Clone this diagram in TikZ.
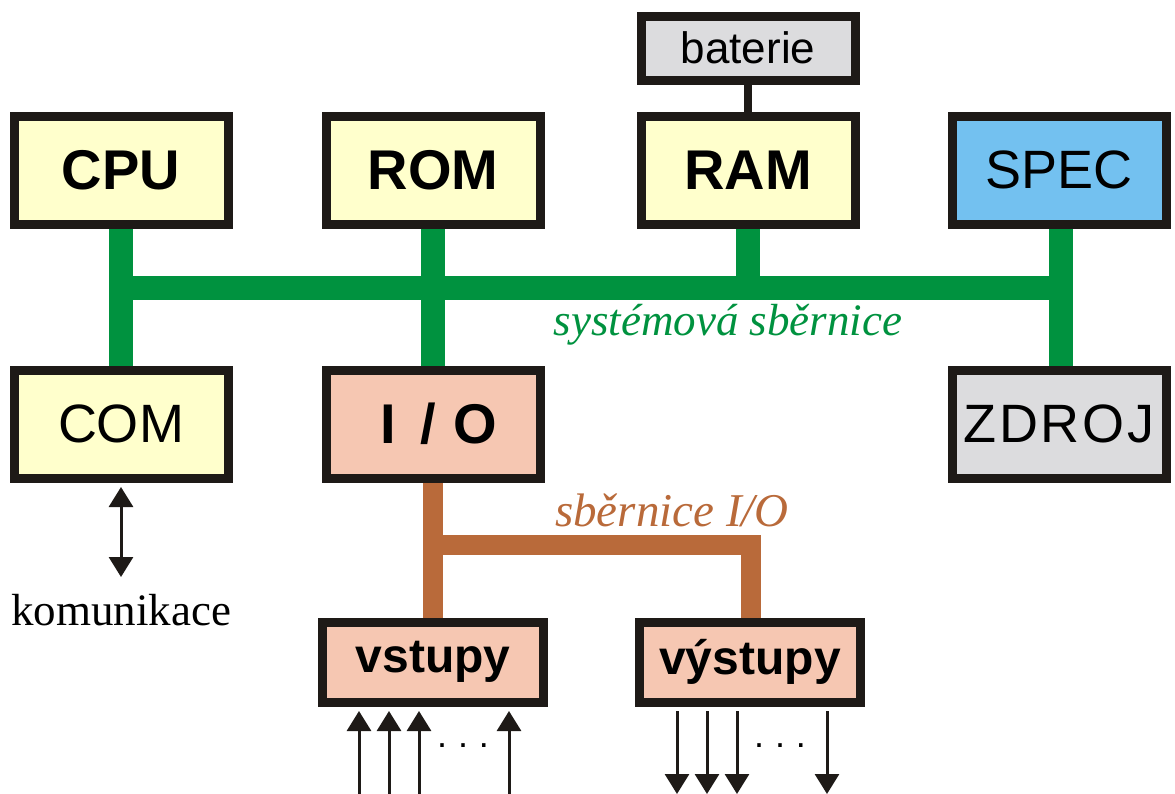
\documentclass[tikz,border=0pt]{standalone}
\usepackage{fontspec}
\setmainfont{Liberation Sans}
\newfontfamily\labelfont{Liberation Serif}
\usetikzlibrary{arrows.meta,backgrounds}

\definecolor{outline}{RGB}{30,26,23}
\definecolor{unityellow}{RGB}{255,255,204}
\definecolor{unitsalmon}{RGB}{246,199,178}
\definecolor{unitblue}{RGB}{115,193,240}
\definecolor{unitgray}{RGB}{220,220,222}
\definecolor{sysgreen}{RGB}{0,146,63}
\definecolor{iobrown}{RGB}{185,106,58}

\begin{document}
\begin{tikzpicture}[x=0.5pt,y=-0.5pt,
  unit/.style={draw=outline, line width=4.5pt, minimum width=107pt, minimum height=54pt, inner sep=0pt},
  portbox/.style={unit, minimum width=110.5pt, minimum height=40pt, fill=unitsalmon, font=\fontsize{24}{24}\selectfont\bfseries},
  boldname/.style={font=\fontsize{28}{28}\selectfont\bfseries},
  plainname/.style={font=\fontsize{27}{27}\selectfont},
  sysbus/.style={sysgreen, line width=12pt},
  iobus/.style={iobrown, line width=10pt, line join=miter},
  sig/.style={outline, line width=1.5pt, -{Triangle[length=10pt,width=12pt]}},
  buslabel/.style={font=\labelfont\itshape\fontsize{22.5}{22.5}\selectfont}]
\useasboundingbox (0,0) rectangle (1175,794);

% Units on the system bus
\node[unit, fill=unityellow, boldname] (cpu) at (121,170) {CPU};
\node[unit, fill=unityellow, boldname] (rom) at (433,170) {ROM};
\node[unit, fill=unityellow, boldname] (ram) at (748,170) {RAM};
\node[unit, fill=unitblue, plainname] (spec) at (1059,170) {SPEC};
\node[unit, fill=unitgray, minimum height=32pt, font=\fontsize{22}{22}\selectfont] (bat) at (748,48) {baterie};
\node[unit, fill=unityellow, plainname] (com) at (121,424) {COM};
\node[unit, fill=unitsalmon, boldname] (io) at (433,424) {\hspace{0.2em}I\hspace{0.45em}/\hspace{0.3em}O};
\node[unit, fill=unitgray, plainname] (zdroj) at (1059,424) {Z\hspace{0.05em}D\hspace{0.05em}R\hspace{0.05em}O\hspace{0.05em}J};

% Inputs and outputs
\node[portbox] (vstupy) at (433,662) {vstupy};
\node[portbox] (vystupy) at (750,662) {výstupy};

% Buses
\coordinate (busW) at (121,288);
\coordinate (busE) at (1061,288);
\coordinate (ioW) at (433,545);
\coordinate (ioE) at (751,545);
\begin{pgfonlayer}{background}
\draw[sysbus] (busW) -- (busE);
\draw[sysbus] (cpu.south) -- (com.north);
\draw[sysbus] (rom.south) -- (io.north);
\draw[sysbus] (ram.south) -- (ram.south |- busW);
\draw[sysbus] (busE |- spec.south) -- (busE |- zdroj.north);
\draw[outline, line width=4pt] (bat.south) -- (ram.north);
\draw[iobus] (io.south) -- (vstupy.north);
\draw[iobus] (ioW) -- (ioE) -- (ioE |- vystupy.north);
\end{pgfonlayer}
\node[buslabel, sysgreen] (sysname) at (728,325) {systémová sběrnice};
\node[buslabel, iobrown, font=\labelfont\itshape\fontsize{23.5}{23.5}\selectfont] (ioname) at (672,510) {sběrnice I/O};

% Communication
\coordinate (comend) at (121,577);
\draw[sig, {Triangle[length=10pt,width=12pt]}-{Triangle[length=10pt,width=12pt]}, shorten <=2.25pt] (com.south) -- (comend);
\node[font=\labelfont\fontsize{22.5}{22.5}\selectfont] (komunikace) at (121,610) {komunikace};

% Signals
\foreach \x in {359,389,419,509}
  \draw[sig, shorten >=2.25pt] (\x,794) -- (\x,0 |- vstupy.south);
\foreach \x in {677,707,737,827}
  \draw[sig, shorten <=2.25pt] (\x,0 |- vystupy.south) -- (\x,794);
\node[font=\fontsize{18}{18}\selectfont] (indots) at (463,746) {.\hspace{0.3em}.\hspace{0.3em}.};
\node[font=\fontsize{18}{18}\selectfont] (outdots) at (780,746) {.\hspace{0.3em}.\hspace{0.3em}.};
\end{tikzpicture}
\end{document}
